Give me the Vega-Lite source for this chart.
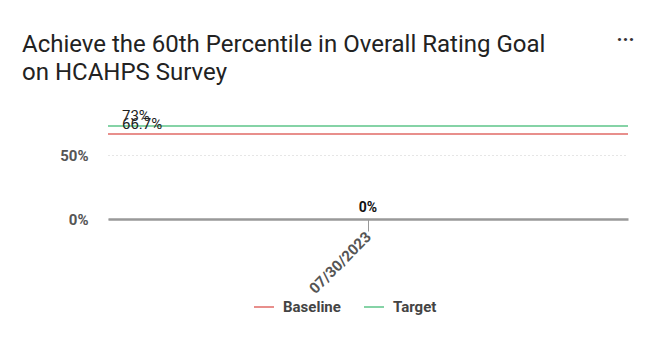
{
  "$schema": "https://vega.github.io/schema/vega-lite/v6.json",
  "autosize": "none",
  "width": 520,
  "height": 102,
  "padding": {"left": 108, "top": 117, "right": 27, "bottom": 119},
  "background": "white",
  "config": {
    "font": "Roboto",
    "view": {"stroke": null},
    "axis": {"labelFont": "Roboto", "titleFont": "Roboto"},
    "legend": {"labelFont": "Roboto"}
  },
  "title": {
    "text": ["Achieve the 60th Percentile in Overall Rating Goal", "on HCAHPS Survey"],
    "anchor": "start",
    "frame": "group",
    "dx": -86,
    "offset": 0,
    "dy": 56,
    "fontSize": 24,
    "fontWeight": "normal",
    "lineHeight": 28,
    "color": "#222222",
    "font": "Roboto"
  },
  "datasets": {
    "lines": [
      {"series": "Baseline", "value": 0.667, "label": "66.7%"},
      {"series": "Target", "value": 0.73, "label": "73%"}
    ],
    "points": [
      {"date": "07/30/2023", "value": 0, "label": "0%"}
    ]
  },
  "resolve": {"axis": {"y": "independent"}},
  "layer": [
    {
      "data": {"name": "points"},
      "mark": {"type": "text", "fontWeight": "bold", "fontSize": 14, "color": "#111111", "baseline": "alphabetic", "dy": -7},
      "encoding": {
        "x": {
          "field": "date", "type": "nominal",
          "axis": {
            "title": null, "labelAngle": -45, "labelAlign": "right", "labelBaseline": "middle",
            "labelFontSize": 15, "labelColor": "#555555", "labelFontWeight": "bold",
            "domainColor": "#999999", "domainWidth": 2.5, "tickColor": "#999999", "tickSize": 12,
            "labelPadding": 3
          }
        },
        "y": {
          "field": "value", "type": "quantitative",
          "scale": {"domain": [0, 0.8], "nice": false},
          "axis": {
            "title": null, "values": [0, 0.5], "format": ".0%", "domain": false, "ticks": false,
            "labelPadding": 20, "labelFontSize": 15, "labelFontWeight": "bold", "labelColor": "#555555",
            "grid": true, "gridDash": [1, 3], "gridColor": "#cccccc"
          }
        },
        "text": {"field": "label"}
      }
    },
    {
      "data": {"name": "lines"},
      "mark": {"type": "rule", "strokeWidth": 1.5},
      "encoding": {
        "y": {
          "field": "value", "type": "quantitative",
          "axis": {
            "orient": "right", "title": "···", "titleAngle": 0, "titleX": -3, "titleY": -68,
            "titleFontSize": 20, "titleColor": "#333333", "titleAlign": "center", "titleFontWeight": "bold",
            "labels": false, "ticks": false, "domain": false, "grid": false
          }
        },
        "color": {
          "field": "series", "type": "nominal",
          "scale": {"domain": ["Baseline", "Target"], "range": ["#e06a66", "#5cc489"]},
          "legend": {
            "title": null, "orient": "none", "legendX": 145, "legendY": 179, "direction": "horizontal", "symbolType": "stroke",
            "symbolSize": 400, "symbolStrokeWidth": 1.5, "labelFontSize": 15, "labelFontWeight": "bold",
            "labelColor": "#444444", "columnPadding": 20, "labelOffset": 8
          }
        }
      }
    },
    {
      "data": {"name": "lines"},
      "mark": {"type": "text", "align": "left", "baseline": "alphabetic", "fontSize": 15, "color": "#222222", "dx": -246, "dy": -5},
      "encoding": {
        "x": {"datum": "07/30/2023", "type": "nominal"},
        "y": {"field": "value", "type": "quantitative", "axis": null},
        "text": {"field": "label"}
      }
    }
  ]
}
